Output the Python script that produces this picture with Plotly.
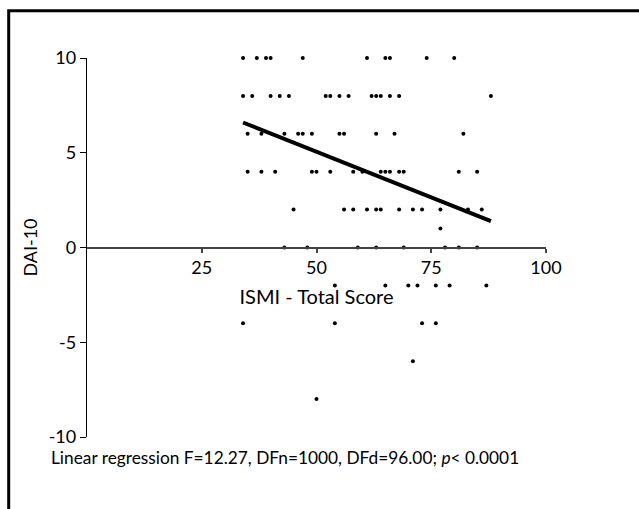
import plotly.graph_objects as go

# ---- data ----
ismi = (
    [34, 37, 39, 40, 47, 61, 65, 66, 74, 80] +
    [34, 36, 40, 42, 44, 52, 53, 55, 57, 62, 63, 64, 66, 68, 88] +
    [35, 38, 43, 46, 47, 49, 55, 56, 63, 67, 82] +
    [35, 38, 41, 49, 50, 53, 58, 60, 64, 65, 66, 68, 69, 81, 85] +
    [45, 56, 58, 61, 63, 64, 68, 71, 73, 77, 83, 86] +
    [77] +
    [43, 48, 59, 63, 69, 78, 81, 85] +
    [54, 65, 70, 72, 76, 79, 87] +
    [34, 54, 73, 76] +
    [71] +
    [50]
)
dai = (
    [10] * 10 +
    [8] * 15 +
    [6] * 11 +
    [4] * 15 +
    [2] * 12 +
    [1] +
    [0] * 8 +
    [-2] * 7 +
    [-4] * 4 +
    [-6] +
    [-8]
)
reg_slope = -0.0963
reg_intercept = 9.87
reg_x = [min(ismi), max(ismi)]
reg_y = [reg_intercept + reg_slope * v for v in reg_x]

x_ticks = [25, 50, 75, 100]
y_ticks = [-10, -5, 0, 5, 10]
x_ticktext = [str(v) for v in x_ticks]
y_ticktext = [str(v) for v in y_ticks]  # hyphen minus, as in the reference

FONT = "Lato"
W, H = 639, 509
L, R, T, B = 87, 93, 58, 72
pw, ph = W - L - R, H - T - B

def px2x(px):
    return (px - L) / pw

def py2y(py):
    return (H - B - py) / ph

fig = go.Figure()
fig.add_trace(go.Scatter(
    x=ismi, y=dai, mode="markers",
    marker=dict(color="black", size=4, symbol="circle"),
    showlegend=False, cliponaxis=False,
))
fig.add_trace(go.Scatter(
    x=reg_x, y=reg_y, mode="lines",
    line=dict(color="black", width=4),
    showlegend=False,
))

fig.update_layout(
    width=W, height=H,
    margin=dict(l=L, r=R, t=T, b=B, autoexpand=False),
    paper_bgcolor="white", plot_bgcolor="white",
    font=dict(family=FONT, color="black", size=18),
    xaxis=dict(
        range=[0, 100], tickvals=x_ticks, ticktext=x_ticktext,
        anchor="free", position=0.5, automargin=False,
        showline=True, linecolor="#444", linewidth=2,
        ticks="outside", ticklen=4, tickcolor="#444", tickwidth=1.5,
        showgrid=False, zeroline=False,
        tickfont=dict(size=18),
        title=dict(text="ISMI - Total Score", font=dict(size=20), standoff=12),
    ),
    yaxis=dict(
        range=[-10, 10], tickvals=y_ticks, ticktext=y_ticktext,
        automargin=False,
        showline=True, linecolor="black", linewidth=1.3,
        ticks="outside", ticklen=6, tickcolor="black", tickwidth=1.3,
        showgrid=False, zeroline=False,
        tickfont=dict(size=18),
        title=dict(text="DAI-10", font=dict(size=18), standoff=6),
    ),
    shapes=[dict(
        type="rect", xref="paper", yref="paper",
        x0=px2x(8.7), y1=py2y(10.7), x1=px2x(700), y0=py2y(560),
        line=dict(color="black", width=3), fillcolor="rgba(0,0,0,0)",
        layer="above",
    )],
    annotations=[dict(
        text="Linear regression F=12.27, DFn=1000, DFd=96.00; <i>p</i>< 0.0001",
        xref="paper", yref="paper", x=px2x(49), y=py2y(457),
        xanchor="left", yanchor="middle", showarrow=False,
        font=dict(size=17.3, family=FONT),
    )],
)

fig.write_html(
    "out.html",
    config={"displayModeBar": False},
    post_script="document.body.style.margin='0';document.body.style.padding='0';",
)
